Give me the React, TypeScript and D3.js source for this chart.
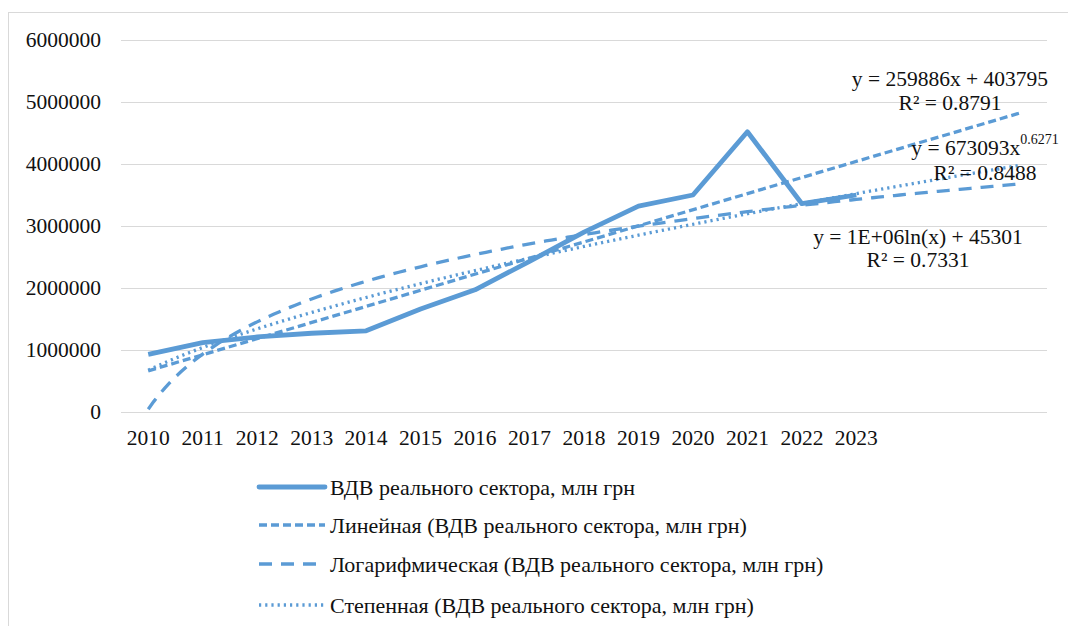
import React from "react";
import * as d3 from "d3";

const years = ["2010","2011","2012","2013","2014","2015","2016","2017","2018","2019","2020","2021","2022","2023"];
const values = [930000, 1120000, 1210000, 1270000, 1310000, 1660000, 1970000, 2430000, 2900000, 3320000, 3500000, 4520000, 3360000, 3500000];
const yTicks = [0, 1000000, 2000000, 3000000, 4000000, 5000000, 6000000];
const forecastPeriods = 3;
const linearCoef = [259886, 403795];
const logCoef = [1282000, 45301];
const powerCoef = [673093, 0.6271];
const seriesName = "ВДВ реального сектора, млн грн";
const legendLabels = [
  seriesName,
  "Линейная (" + seriesName + ")",
  "Логарифмическая (" + seriesName + ")",
  "Степенная (" + seriesName + ")",
];

const COLOR = "#5B9BD5";
const FONT = "Liberation Serif, Times New Roman, DejaVu Serif";

export default function App() {
  const nCat = years.length + forecastPeriods;
  const x = d3.scaleLinear().domain([0.5, nCat + 0.5]).range([121, 1047]);
  const y = d3.scaleLinear().domain([0, 6000000]).range([412, 40]);

  const line = d3.line<[number, number]>().x(d => x(d[0])).y(d => y(d[1]));
  const dataPts: [number, number][] = values.map((v, i) => [i + 1, v]);
  const xs = d3.range(1, nCat + 0.001, 0.1);
  const linPts: [number, number][] = [1, nCat].map(t => [t, linearCoef[0] * t + linearCoef[1]]);
  const logPts: [number, number][] = xs.map(t => [t, logCoef[0] * Math.log(t) + logCoef[1]]);
  const powPts: [number, number][] = xs.map(t => [t, powerCoef[0] * Math.pow(t, powerCoef[1])]);

  const styles = [
    { w: 4.8, dash: undefined as string | undefined, cap: "round" },
    { w: 3.3, dash: "8,4", cap: "butt" },
    { w: 3.3, dash: "13,9", cap: "butt" },
    { w: 3.3, dash: "2.2,4", cap: "butt" },
  ];
  const legendY = [487, 525, 564, 605];
  const txt = { fontFamily: FONT };

  return (
    <svg width={1068} height={626} style={{ position: "absolute", left: 0, top: 0, background: "#fff", fontFamily: FONT }}>
      <rect x={8.5} y={12.5} width={1080} height={640} fill="#fff" stroke="#d9d9d9" strokeWidth={1} />
      {yTicks.map(t => (
        <g key={t}>
          <line x1={121} x2={1047} y1={Math.round(y(t)) + 0.5} y2={Math.round(y(t)) + 0.5} stroke="#d9d9d9" strokeWidth={1.2} />
          <text style={txt} x={101} y={y(t)} textAnchor="end" dominantBaseline="central" fontSize={21.5} fill="#111">{t}</text>
        </g>
      ))}
      {years.map((yr, i) => (
        <text style={txt} key={yr} x={x(i + 1)} y={438} textAnchor="middle" dominantBaseline="central" fontSize={21.5} fill="#111">{yr}</text>
      ))}
      <path d={line(linPts) || ""} fill="none" stroke={COLOR} strokeWidth={3.3} strokeDasharray="8,4" />
      <path d={line(logPts) || ""} fill="none" stroke={COLOR} strokeWidth={3.3} strokeDasharray="13,9" />
      <path d={line(powPts) || ""} fill="none" stroke={COLOR} strokeWidth={3.3} strokeDasharray="2.2,4" />
      <path d={line(dataPts) || ""} fill="none" stroke={COLOR} strokeWidth={4.8} strokeLinejoin="round" />

      <g fontSize={21.5} fill="#111" textAnchor="middle">
        <text style={txt} x={950} y={79} dominantBaseline="central">y = 259886x + 403795</text>
        <text style={txt} x={950} y={103} dominantBaseline="central">R² = 0.8791</text>
        <text style={txt} x={985} y={148} dominantBaseline="central">y = 673093x<tspan fontSize={14} dy={-9}>0.6271</tspan></text>
        <text style={txt} x={985} y={173} dominantBaseline="central">R² = 0.8488</text>
        <text style={txt} x={918} y={237} dominantBaseline="central">y = 1E+06ln(x) + 45301</text>
        <text style={txt} x={918} y={260} dominantBaseline="central">R² = 0.7331</text>
      </g>

      {legendLabels.map((lbl, i) => (
        <g key={lbl}>
          <line x1={259} x2={325} y1={legendY[i]} y2={legendY[i]} stroke={COLOR} strokeWidth={styles[i].w} strokeDasharray={styles[i].dash} strokeLinecap={styles[i].cap as any} />
          <text style={txt} x={330} y={legendY[i]} dominantBaseline="central" fontSize={22} fill="#111">{lbl}</text>
        </g>
      ))}
    </svg>
  );
}
